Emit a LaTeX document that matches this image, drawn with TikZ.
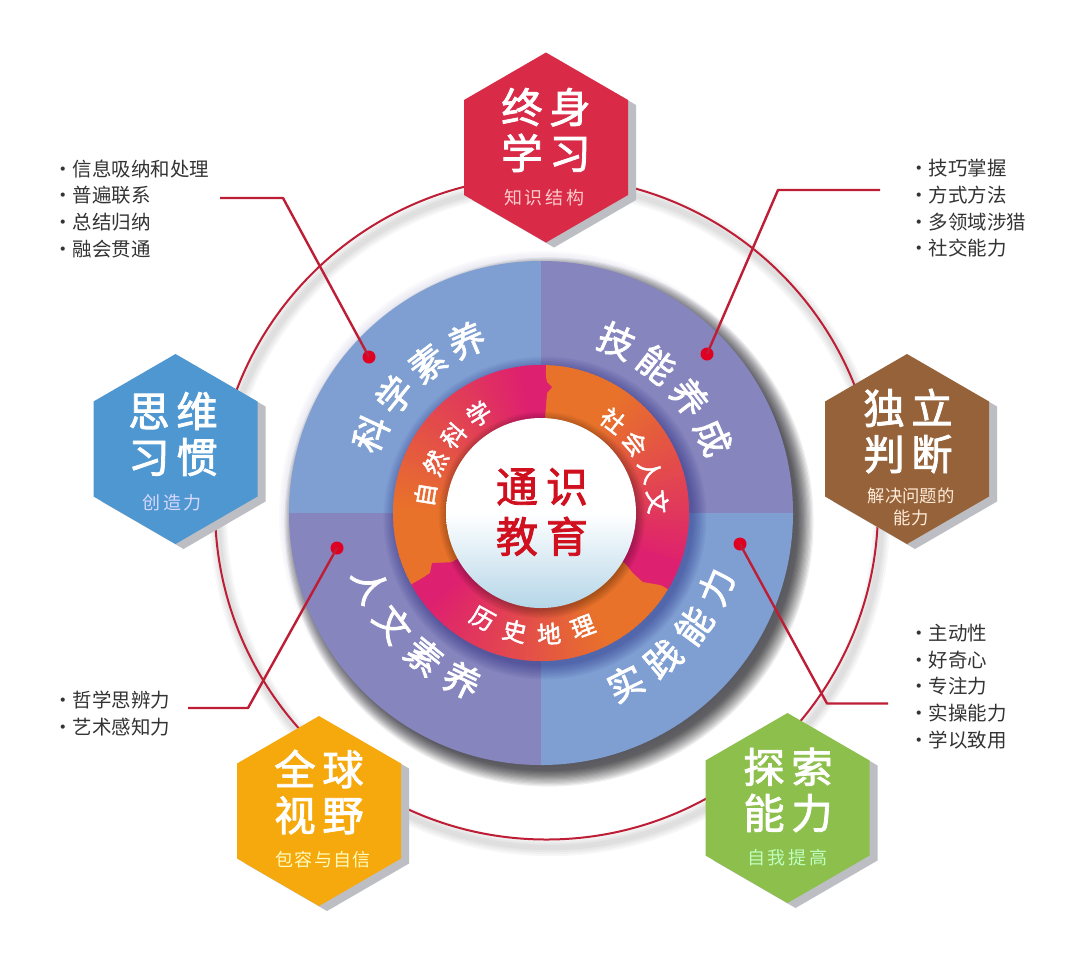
\documentclass[tikz,border=0pt]{standalone}
\usepackage{fontspec}
\setmainfont{Noto Sans CJK SC}
\newfontfamily\heavyfont{Noto Sans CJK SC}[FakeBold=2]
\usetikzlibrary{calc}
\definecolor{leader}{HTML}{BE1E35}
\definecolor{dotred}{HTML}{E00022}
\definecolor{quadblue}{HTML}{7F9FD3}
\definecolor{quadpurple}{HTML}{8685BE}
\definecolor{ringorange}{HTML}{E8722A}
\definecolor{ringmagenta}{HTML}{DE2070}
\definecolor{hexred}{HTML}{D92B47}
\definecolor{hexblue}{HTML}{4E97D1}
\definecolor{hexbrown}{HTML}{96623A}
\definecolor{hexyellow}{HTML}{F5A90D}
\definecolor{hexgreen}{HTML}{8CBF4B}
\definecolor{hexshadow}{HTML}{BDBEC3}
\definecolor{centerred}{HTML}{D0101F}
\definecolor{centerblue}{HTML}{B5D6E8}
\definecolor{listink}{HTML}{333333}
\tikzset{
  x=0.75pt,y=-0.75pt,
  hextitle/.style={text=white,font=\heavyfont\fontsize{31}{34.5}\selectfont,align=center,inner sep=0pt},
  hexsub/.style={font=\fontsize{13.5}{16.5}\selectfont,align=center,inner sep=0pt},
  listtext/.style={text=listink,font=\fontsize{14.6}{20}\selectfont,align=left,anchor=west,inner sep=0pt},
  discchar/.style={text=white,font=\heavyfont\fontsize{27}{30}\selectfont,inner sep=0pt},
  ringchar/.style={text=white,font=\heavyfont\fontsize{18}{20}\selectfont,inner sep=0pt},
  leaderline/.style={draw=leader,line width=1.8pt,line join=round},
  leaderdot/.style={circle,fill=dotred,inner sep=0pt,minimum size=9.75pt},
}
\newcommand\gapT{\hspace{5pt}}
\newcommand\gapS{\hspace{2pt}}
% #1 name #2 cx #3 cy #4 colour
\newcommand\hexa[4]{%
  \fill[hexshadow] ({#2+8},{#3-90}) -- ({#2+90},{#3-42.5}) -- ({#2+90},{#3+52.5}) -- ({#2+8},{#3+100}) -- ({#2-74},{#3+52.5}) -- ({#2-74},{#3-42.5}) -- cycle;
  \fill[#4] (#2,{#3-95}) -- ({#2+82},{#3-47.5}) -- ({#2+82},{#3+47.5}) -- (#2,{#3+95}) -- ({#2-82},{#3+47.5}) -- ({#2-82},{#3-47.5}) -- cycle;
}
% #1 name #2 r #3 start #4 step #5 rot offset #6 style #7 chars
\newcommand\arcchars[7]{%
  \foreach \c [count=\i from 0] in {#7} {%
    \pgfmathsetmacro\aa{#3+\i*#4}%
    \pgfmathsetmacro\rr{\aa+#5}%
    \node[#6,rotate=\rr] (#1-\i) at ({541+#2*cos(\aa)},{513-#2*sin(\aa)}) {\c};
  }%
}
% #1 start angle #2 end angle : gradient wedges, orange to magenta
\newcommand\ringseg[2]{%
  \foreach \k in {0,...,59} {%
    \pgfmathsetmacro\pp{max(0,min(100,(\k-15)/40*100))}%
    \pgfmathsetmacro\ua{#1+(#2-#1)*\k/60}%
    \pgfmathsetmacro\ub{#1+(#2-#1)*(\k+1.6)/60}%
    \fill[ringmagenta!\pp!ringorange] (541,513) -- ({541+200*cos(\ua)},{513-200*sin(\ua)}) -- ({541+200*cos(\ub)},{513-200*sin(\ub)}) -- cycle;
  }%
}
\begin{document}
\begin{tikzpicture}
\useasboundingbox (0,0) rectangle (1080,954);
\fill[white] (0,0) rectangle (1080,954);
% outer thin circle with soft shadow
\foreach \w in {13,10,7,4} {
  \draw[black,opacity=0.03,line width=\w pt] (550,516) circle[radius=331.5];
}
\draw[leader,line width=1.5pt] (546.5,508) circle[radius=331.5];
% disc shadow
\foreach \k in {0,...,6} {
  \fill[blue!40!black,opacity=0.02] (543,515) circle[radius={252+\k*2}];
}
\foreach \k in {0,...,13} {
  \fill[black,opacity=0.06] (549,522) circle[radius={249+\k*1.2}];
}
% disc
\begin{scope}
  \clip (541,513) circle[radius=252];
  \fill[quadblue] (280,250) rectangle (541,513);
  \fill[quadpurple] (541,250) rectangle (800,513);
  \fill[quadpurple] (280,513) rectangle (541,780);
  \fill[quadblue] (541,513) rectangle (800,780);
  % ring shadow
  \foreach \k in {0,...,9} {
    \fill[black!60!blue,opacity=0.04] (545,518) circle[radius={148+\k*1.5}];
  }
\end{scope}
% ring
\begin{scope}
  \clip (541,513) circle[radius=148];
  \ringseg{210}{88}
  \ringseg{88}{-31}
  \ringseg{-31}{-150}
  \fill[ringmagenta] (543,363) -- (547,382) -- (552,387) -- (547,393) -- (545,418) -- (535,418) -- (535,363) -- cycle;
  \fill[ringmagenta] (672,587) -- (643,582) -- (633,573) -- (625,563) -- (618,545) -- (680,560) -- cycle;
  \fill[ringmagenta] (411,586) -- (430,573) -- (432,563) -- (457,562) -- (462,580) -- (420,600) -- cycle;
\end{scope}
% centre
\foreach \k in {0,...,7} {
  \fill[black,opacity=0.035] (542,515) circle[radius={95+\k*1.2}];
}
\shade[top color=white,bottom color=centerblue,middle color=white] (541,513) circle[radius=95];
\node[text=centerred,font=\heavyfont\fontsize{31.5}{37.5}\selectfont,align=center,inner sep=0pt] (core) at (542,512) {通\hspace{6pt}识\\教\hspace{6pt}育};
% ring labels
\arcchars{ringa}{117}{171}{-16.3}{-90}{ringchar}{自,然,科,学}
\arcchars{ringb}{117}{52}{-15.5}{-90}{ringchar}{社,会,人,文}
\arcchars{ringc}{121}{241}{16.4}{90}{ringchar}{历,史,地,理}
% disc labels
\arcchars{disca}{188}{155}{-13.9}{-90}{discchar}{科,学,素,养}
\arcchars{discb}{188}{66.3}{-14.2}{-90}{discchar}{技,能,养,成}
\arcchars{discc}{185}{203}{13.9}{90}{discchar}{人,文,素,养}
\arcchars{discd}{190}{-63.6}{13.6}{90}{discchar}{实,践,能,力}
% leaders
\node[leaderdot] (dotA) at (369,357) {};
\node[leaderdot] (dotB) at (707,354) {};
\node[leaderdot] (dotC) at (337,548) {};
\node[leaderdot] (dotD) at (740,544) {};
\coordinate (bendA) at (283,198); \coordinate (endA) at (220,198);
\coordinate (bendB) at (778,190); \coordinate (endB) at (880,190);
\coordinate (bendC) at (248,708); \coordinate (endC) at (188,708);
\coordinate (bendD) at (827,703.5); \coordinate (endD) at (888,703.5);
\draw[leaderline] (dotA.center) -- (bendA) -- (endA);
\draw[leaderline] (dotB.center) -- (bendB) -- (endB);
\draw[leaderline] (dotC.center) -- (bendC) -- (endC);
\draw[leaderline] (dotD.center) -- (bendD) -- (endD);
% lists
\node[listtext] (listA) at (53,208.5) {·信息吸纳和处理\\·普遍联系\\·总结归纳\\·融会贯通};
\node[listtext] (listB) at (909,208.5) {·技巧掌握\\·方式方法\\·多领域涉猎\\·社交能力};
\node[listtext] (listC) at (909,686.5) {·主动性\\·好奇心\\·专注力\\·实操能力\\·学以致用};
\node[listtext] (listD) at (53,713.5) {·哲学思辨力\\·艺术感知力};
% hexagons
\hexa{top}{546}{147.5}{hexred}
\hexa{left}{175.5}{449}{hexblue}
\hexa{right}{907}{449}{hexbrown}
\hexa{bl}{319}{811}{hexyellow}
\hexa{br}{787.5}{808}{hexgreen}
\node[hextitle] (tTop) at (546,130) {终\gapT 身\\学\gapT 习};
\node[hexsub,text=red!20!white] (sTop) at (544,198) {知\gapS 识\gapS 结\gapS 构};
\node[hextitle] (tLeft) at (173,434) {思\gapT 维\\习\gapT 惯};
\node[hexsub,text=blue!15!white] (sLeft) at (172,503) {创\gapS 造\gapS 力};
\node[hextitle] (tRight) at (908,431) {独\gapT 立\\判\gapT 断};
\node[hexsub,text=white!85!orange,font=\fontsize{13}{16.5}\selectfont] (sRight) at (911,507) {解决问题的\\能力};
\node[hextitle] (tBl) at (319,792) {全\gapT 球\\视\gapT 野};
\node[hexsub,text=white!75!yellow] (sBl) at (323,860) {包\hspace{1pt}容\hspace{1pt}与\hspace{1pt}自\hspace{1pt}信};
\node[hextitle] (tBr) at (788,790) {探\gapT 索\\能\gapT 力};
\node[hexsub,text=white!75!green] (sBr) at (787,858) {自\gapS 我\gapS 提\gapS 高};
\end{tikzpicture}
\end{document}
